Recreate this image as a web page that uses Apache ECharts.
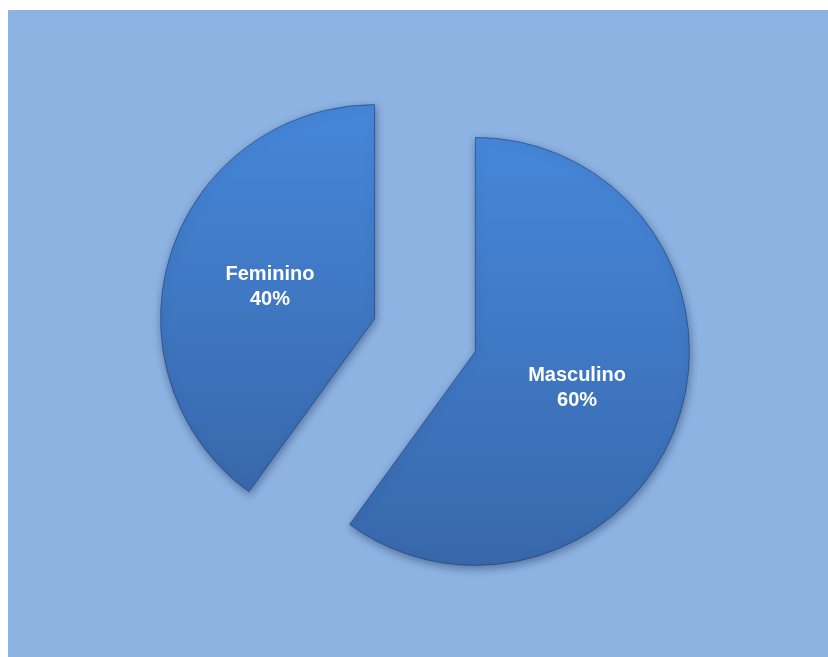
<!DOCTYPE html>
<html>
<head>
<meta charset="utf-8">
<script src="https://cdn.jsdelivr.net/npm/echarts@6/dist/echarts.min.js"></script>
<style>
  html, body { margin: 0; padding: 0; background: #ffffff; }
  #chart { position: absolute; left: 8px; top: 10px; width: 820px; height: 647px; background: #8db3e2; }
</style>
</head>
<body>
<div id="chart"></div>
<script>
// Distribution by sex
const categories = ['Masculino', 'Feminino'];
const shares = [60, 40];

const chart = echarts.init(document.getElementById('chart'));

function sliceFill() {
  return new echarts.graphic.LinearGradient(0, 0, 0, 1, [
    { offset: 0, color: '#4687da' },
    { offset: 1, color: '#3868ab' }
  ]);
}

// small nudges of the inside labels
const labelShift = [[-3, 3], [0, 2]];

chart.setOption({
  animation: false,
  series: [{
    type: 'pie',
    center: [417, 325],
    radius: [0, 214],
    startAngle: 90,
    clockwise: true,
    selectedMode: 'multiple',
    selectedOffset: 53,
    avoidLabelOverlap: false,
    emphasis: { disabled: true },
    itemStyle: {
      borderColor: 'rgba(30,60,110,0.6)',
      borderWidth: 1,
      shadowBlur: 8,
      shadowOffsetX: 1,
      shadowOffsetY: 3,
      shadowColor: 'rgba(20,40,80,0.45)'
    },
    label: {
      show: true,
      position: 'inside',
      color: '#ffffff',
      fontFamily: 'Liberation Sans, Arial, sans-serif',
      fontWeight: 'bold',
      fontSize: 20,
      lineHeight: 25,
      formatter: p => p.name + '\n' + p.value + '%'
    },
    labelLayout: p => ({ dx: labelShift[p.dataIndex][0], dy: labelShift[p.dataIndex][1] }),
    labelLine: { show: false },
    data: categories.map((name, i) => ({
      name: name,
      value: shares[i],
      selected: true,
      itemStyle: { color: sliceFill() }
    }))
  }]
});
</script>
</body>
</html>
